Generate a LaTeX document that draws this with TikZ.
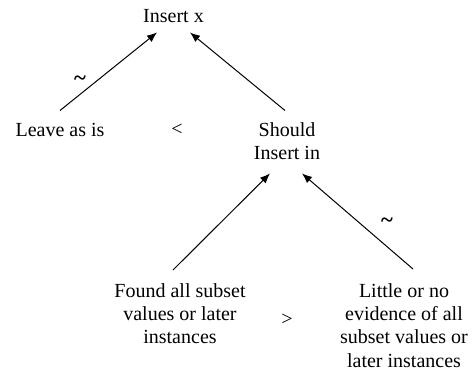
\documentclass[tikz,border=0pt]{standalone}
\usepackage{fontspec}
\setmainfont{Liberation Serif}
\usepackage{tikz}
\usetikzlibrary{arrows.meta}
\usetikzlibrary{calc}

\tikzset{
    txt/.style={inner sep=0pt, align=center, font=\fontsize{15}{17.5}\selectfont},
    sq/.style={inner sep=0pt, font=\fontsize{17}{17}\selectfont\bfseries},
    arr/.style={line width=0.75pt, -{Latex[length=7.5pt,width=6pt]}}
}

\begin{document}
\begin{tikzpicture}[x=0.75pt,y=-0.75pt]
        \useasboundingbox (0,0) rectangle (476,375);

        \node[txt, anchor=base] (insx) at (173.5,22) {Insert x};
        \node[txt, anchor=base] (leave) at (60,136) {Leave as is};
        \node[txt] (lt) at (177,130) {<};
        \node[txt, anchor=north] (should) at (287,122.5) {Should\\Insert in};

        \node[txt, anchor=north] (found) at (180,283) {Found all subset\\values or later\\instances};
        \node[txt] (gt) at (287,320) {>};
        \node[txt, anchor=north] (little) at (404,283) {Little or no\\evidence of all\\subset values or\\later instances};

        \draw[arr] ($(leave.north)+(0,-12)$) -- ($(insx.south)+(-16.5,10)$);
        \draw[arr] ($(should.north)+(-2,-12)$) -- ($(insx.south)+(16.5,10)$);
        \draw[arr] ($(found.north)+(-7,-13)$) -- ($(should.south)+(-17,13)$);
        \draw[arr] ($(little.north)+(9,-14)$) -- ($(should.south)+(15,13)$);

        \node[sq] (tl) at (80,81) {\char`\~};
        \node[sq] (tr) at (387,223) {\char`\~};
    \end{tikzpicture}
\end{document}
